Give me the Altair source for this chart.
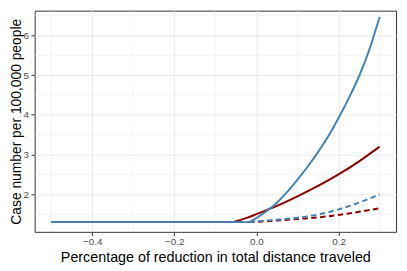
import altair as alt
import pandas as pd

# ---- data ----
flat_start = -0.5
base_level = 1.30

blue_solid_x = [-0.0175, 0.0, 0.025, 0.05, 0.075, 0.1, 0.125, 0.15, 0.175, 0.2, 0.225, 0.25, 0.275, 0.3]
blue_solid_y = [1.30, 1.40, 1.58, 1.79, 2.06, 2.37, 2.70, 3.06, 3.46, 3.92, 4.42, 4.97, 5.64, 6.46]

red_solid_x = [-0.057, -0.025, 0.0, 0.05, 0.1, 0.15, 0.2, 0.25, 0.3]
red_solid_y = [1.30, 1.40, 1.50, 1.71, 1.95, 2.21, 2.50, 2.83, 3.20]

blue_dashed_x = [-0.0175, 0.0, 0.05, 0.1, 0.15, 0.2, 0.25, 0.3]
blue_dashed_y = [1.30, 1.32, 1.36, 1.41, 1.49, 1.62, 1.79, 2.00]

red_dashed_x = [-0.0175, 0.0, 0.05, 0.1, 0.15, 0.2, 0.25, 0.3]
red_dashed_y = [1.30, 1.31, 1.34, 1.38, 1.42, 1.48, 1.56, 1.65]

x_major = [-0.4, -0.2, 0.0, 0.2]
x_minor = [-0.5, -0.3, -0.1, 0.1, 0.3]
y_major = [2, 3, 4, 5, 6]
y_minor = [1.5, 2.5, 3.5, 4.5, 5.5, 6.5]

x_title = "Percentage of reduction in total distance traveled"
y_title = "Case number per 100,000 people"


def series_df(xs, ys):
    rows = [{"x": flat_start, "y": base_level, "seg": "flat"},
            {"x": xs[0], "y": base_level, "seg": "flat"}]
    rows += [{"x": a, "y": b, "seg": "rise"} for a, b in zip(xs, ys)]
    return pd.DataFrame(rows)


FONT = "Liberation Sans"
x_scale = alt.Scale(domain=[-0.54, 0.34], nice=False, zero=False)
y_scale = alt.Scale(domain=[1.056, 6.62], nice=False, zero=False)

x_axis = alt.Axis(values=x_major, format=".1f", title=x_title, grid=True,
                  gridColor="#EBEBEB", gridWidth=1.1, domain=False,
                  tickColor="#333333", tickSize=3.7, tickWidth=1,
                  labelColor="#4D4D4D", labelFontSize=10, labelFont=FONT,
                  labelPadding=1.5, titleFont=FONT, titleFontSize=14.5,
                  titleFontWeight="normal", titleColor="#000000", titlePadding=4,
                  labelFlush=False)
y_axis = alt.Axis(values=y_major, format="d", title=y_title, grid=True,
                  gridColor="#EBEBEB", gridWidth=1.1, domain=False,
                  tickColor="#333333", tickSize=3.7, tickWidth=1,
                  labelColor="#4D4D4D", labelFontSize=10, labelFont=FONT,
                  labelPadding=2.5, titleFont=FONT, titleFontSize=14,
                  titleFontWeight="normal", titleColor="#000000", titlePadding=0,
                  labelFlush=False)

minor_x = alt.Chart(pd.DataFrame({"x": x_minor})).mark_rule(
    color="#EBEBEB", strokeWidth=0.55).encode(
    x=alt.X("x:Q", scale=x_scale, axis=x_axis))
minor_y = alt.Chart(pd.DataFrame({"y": y_minor})).mark_rule(
    color="#EBEBEB", strokeWidth=0.55).encode(
    y=alt.Y("y:Q", scale=y_scale, axis=y_axis))


def line(xs, ys, color, dash=None):
    kw = dict(color=color, strokeWidth=2, interpolate="monotone", clip=True)
    if dash:
        kw["strokeDash"] = dash
    return alt.Chart(series_df(xs, ys)).mark_line(**kw).encode(
        x=alt.X("x:Q", scale=x_scale, axis=x_axis),
        y=alt.Y("y:Q", scale=y_scale, axis=y_axis),
        detail="seg:N",
        order="x:Q")


BLUE = "#4682B4"
RED = "#8B0000"

chart = alt.layer(
    minor_x,
    minor_y,
    line(red_solid_x, red_solid_y, RED),
    line(red_dashed_x, red_dashed_y, RED, [5.5, 3.5]),
    line(blue_dashed_x, blue_dashed_y, BLUE, [5.5, 3.5]),
    line(blue_solid_x, blue_solid_y, BLUE),
).properties(
    width=366, height=224,
    autosize=alt.AutoSizeParams(type="none"),
    padding={"left": 27, "top": 1, "right": 3, "bottom": 40},
    background="white",
).configure_view(stroke="#333333", strokeWidth=1)

chart.save("out.html", embed_options={"renderer": "svg", "actions": False})
